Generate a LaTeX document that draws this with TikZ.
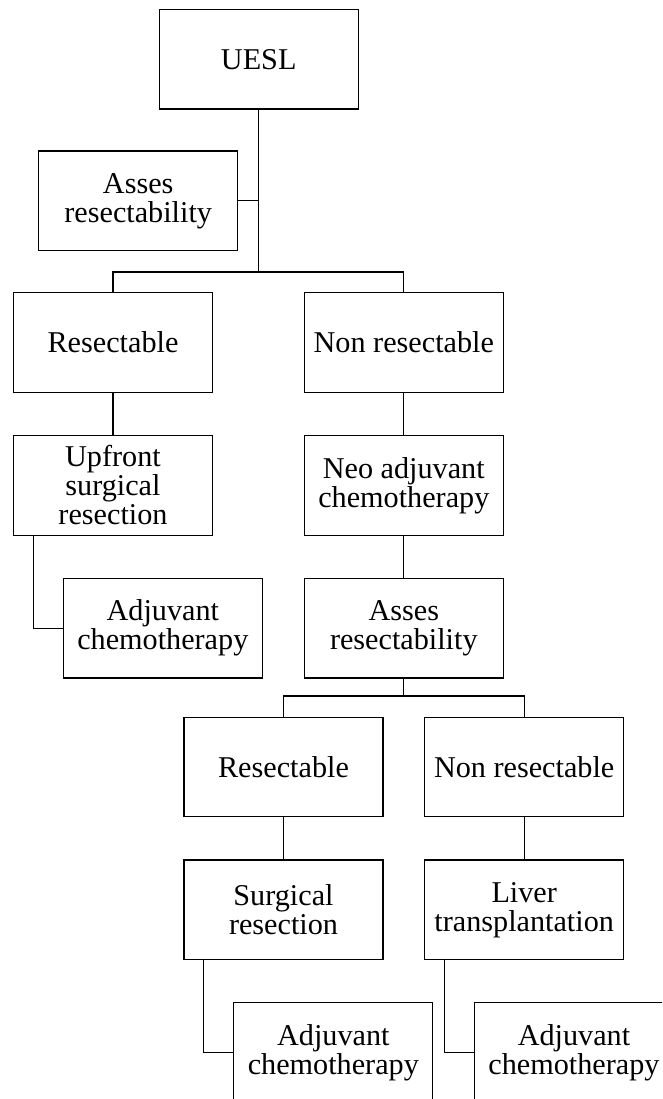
\documentclass[tikz,border=0pt]{standalone}
\usepackage{fontspec}
\setmainfont{Liberation Serif}
\usetikzlibrary{positioning}

\tikzset{
    stage/.style={draw, line width=1.2pt, minimum width=199pt, minimum height=99.6pt,
        inner sep=0pt, align=center, font=\fontsize{30.2}{29}\selectfont},
    link/.style={line width=1.2pt}
}

\begin{document}
\begin{tikzpicture}[x=1pt, y=-1pt, node distance=42pt]
    \useasboundingbox (0,0) rectangle (662,1099);
    \clip (0,0) rectangle (662,1099);
    % first stage
    \node [stage] (uesl) at (258.7,59.2) {UESL};
    \node [stage] (assess) at (138.2,200.8) {Asses\\resectability};
    \node [stage] (res) at (113,342.5) {Resectable};
    \node [stage] (nonres) at (403.8,342.5) {Non resectable};
    \node [stage,below=of res] (upfront) {Upfront\\surgical\\resection};
    \node [stage,below=of upfront,xshift=49.8pt] (adjA) {Adjuvant\\chemotherapy};
    \node [stage,below=of nonres] (neoadj) {Neo adjuvant\\chemotherapy};
    \node [stage,below=of neoadj] (reassess) {Asses\\resectability};
    % second stage
    \node [stage] (resB) at (283.5,767) {Resectable};
    \node [stage] (nonresB) at (524.2,767) {Non resectable};
    \node [stage,below=of resB] (surg) {Surgical\\resection};
    \node [stage,below=of nonresB] (liver) {Liver\\transplantation};
    \node [stage,below=of surg,xshift=49.8pt] (adjB) {Adjuvant\\chemotherapy};
    \node [stage,below=of liver,xshift=49.8pt] (adjC) {Adjuvant\\chemotherapy};

    \coordinate (forkA) at (258.7,272);
    \coordinate (forkB) at (403.8,696);
    \draw [link] (uesl.south) -- (forkA);
    \draw [link] (assess.east) -- (assess.east -| forkA);
    \draw [link] (res.north) |- (forkA) -| (nonres.north);
    \draw [link] (res) -- (upfront);
    \draw [link] ([xshift=20.4pt]upfront.south west) |- (adjA.west);
    \draw [link] (nonres) -- (neoadj);
    \draw [link] (neoadj) -- (reassess);
    \draw [link] (reassess.south) -- (forkB);
    \draw [link] (resB.north) |- (forkB) -| (nonresB.north);
    \draw [link] (resB) -- (surg);
    \draw [link] (nonresB) -- (liver);
    \draw [link] ([xshift=20pt]surg.south west) |- (adjB.west);
    \draw [link] ([xshift=20pt]liver.south west) |- (adjC.west);
\end{tikzpicture}
\end{document}
